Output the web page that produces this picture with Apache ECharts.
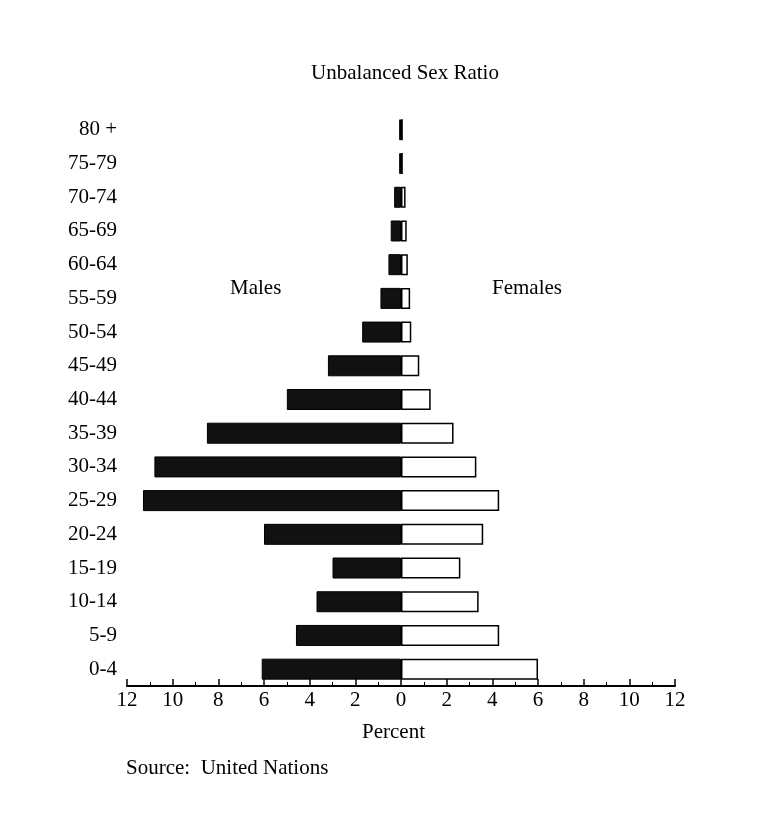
<!DOCTYPE html>
<html><head><meta charset="utf-8">
<script src="https://cdn.jsdelivr.net/npm/echarts@6/dist/echarts.min.js"></script>
<style>html,body{margin:0;background:#fff}#c{width:770px;height:816px}</style>
</head><body><div id="c"></div>
<script>
const categories = ['0-4','5-9','10-14','15-19','20-24','25-29','30-34','35-39','40-44','45-49','50-54','55-59','60-64','65-69','70-74','75-79','80 +'];
const males   = [6.1,4.6,3.7,3.0,6.0,11.3,10.8,8.5,5.0,3.2,1.7,0.9,0.55,0.45,0.3,0.08,0.08];
const females = [6.0,4.3,3.4,2.6,3.6,4.3,3.3,2.3,1.3,0.8,0.45,0.4,0.3,0.25,0.2,0.08,0.08];
const F = 'Liberation Serif';
const chart = echarts.init(document.getElementById('c'));
chart.setOption({
  animation:false,
  textStyle:{fontFamily:F,color:'#000'},
  title:{text:'Unbalanced Sex Ratio',left:400,top:58,textAlign:'center',textStyle:{fontFamily:F,fontWeight:'normal',fontSize:21,color:'#000'}},
  graphic:[
    {type:'text',left:230,top:278,style:{text:'Males',font:'21px "Liberation Serif"',fill:'#000'}},
    {type:'text',left:492,top:278,style:{text:'Females',font:'21px "Liberation Serif"',fill:'#000'}},
    {type:'text',left:362,top:722,style:{text:'Percent',font:'21px "Liberation Serif"',fill:'#000'}},
    {type:'text',left:126,top:758,style:{text:'Source:  United Nations',font:'21px "Liberation Serif"',fill:'#000'}}
  ],
  grid:{left:127,right:95,top:113,bottom:130,containLabel:false},
  xAxis:{type:'value',min:-12,max:12,interval:2,splitLine:{show:false},
    axisLine:{show:true,onZero:false,lineStyle:{color:'#000',width:2}},
    axisTick:{show:true,inside:true,length:7,lineStyle:{color:'#000',width:1.5}},
    minorTick:{show:true,splitNumber:2,length:4,lineStyle:{color:'#000'}},
    axisLabel:{formatter:v=>Math.abs(v),fontFamily:F,fontSize:21,color:'#000',margin:4}},
  yAxis:{type:'category',data:categories,axisLine:{show:false},axisTick:{show:false},
    axisLabel:{fontFamily:F,fontSize:21,color:'#000',margin:10}},
  series:[
    {name:'Males',type:'bar',data:males.map(v=>-v),barWidth:21,barGap:'-100%',
     itemStyle:{color:'#111',borderColor:'#000',borderWidth:1}},
    {name:'Females',type:'bar',data:females,barWidth:21,
     itemStyle:{color:'#fff',borderColor:'#000',borderWidth:1.5}}
  ]
});
</script></body></html>
